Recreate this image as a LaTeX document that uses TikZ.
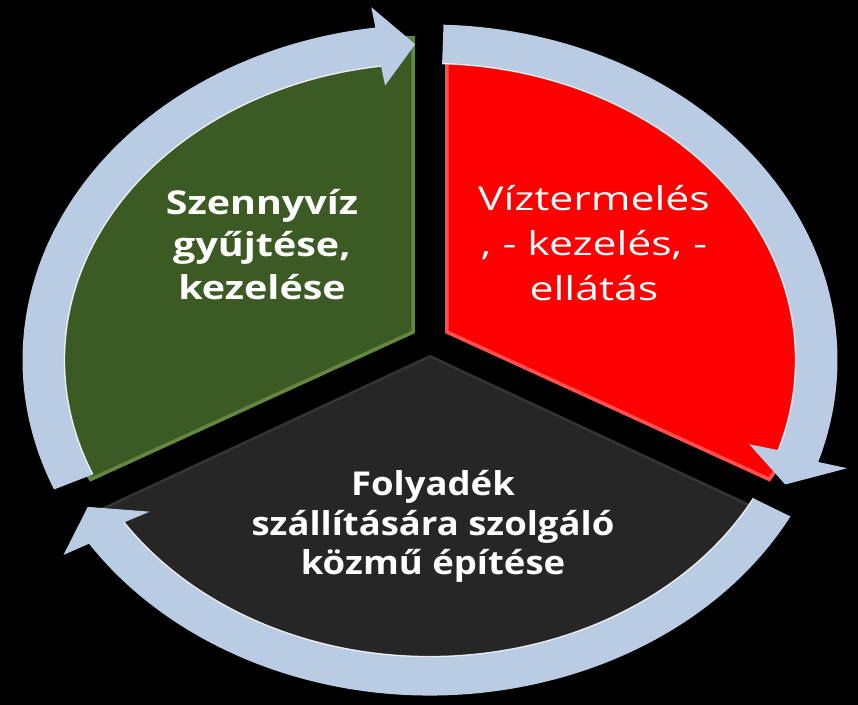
\documentclass[tikz,border=0pt]{standalone}
\usepackage{fontspec}
\newfontfamily\diagfont[FakeStretch=1.3]{Open Sans}
\newfontfamily\diagboldfont[FakeStretch=1.11]{Open Sans Bold}
\newfontfamily\diagwidefont[FakeStretch=1.2]{Open Sans Bold}
\definecolor{segGreen}{RGB}{60,90,35}
\definecolor{segGreenLight}{RGB}{98,135,62}
\definecolor{segRed}{RGB}{255,0,0}
\definecolor{segRedLight}{RGB}{255,80,80}
\definecolor{segGray}{RGB}{38,38,38}
\definecolor{segGrayLight}{RGB}{52,52,52}
\definecolor{ringBlue}{RGB}{185,204,228}
\newcommand\sectorpath[5]{(#1) -- ++(#2:#4 and #5) arc[start angle=#2, end angle=#3, x radius=#4, y radius=#5] -- cycle}
\newcommand\ringarrow[2]{%
  \pgfmathsetmacro\hc{#2+5.5}%
  \fill[ringfill] (#1:407.5bp and 335.5bp)
    arc[start angle=#1, end angle=\hc, x radius=407.5bp, y radius=335.5bp]
    -- (\hc:438bp and 356bp) -- (#2:386.5bp and 316bp) -- (\hc:335bp and 277bp)
    -- (\hc:365.5bp and 296.5bp)
    arc[start angle=\hc, end angle=#1, x radius=365.5bp, y radius=296.5bp] -- cycle;
  \draw[ringlight] (#1:365.5bp and 296.5bp)
    arc[start angle=#1, end angle=\hc, x radius=365.5bp, y radius=296.5bp];
}
\begin{document}
\begin{tikzpicture}[x=1bp,y=1bp,
  ringfill/.style={fill=ringBlue},
  ringlight/.style={draw=white, line width=1.3bp, opacity=.85},
  lbl/.style={text=white, align=center, inner sep=0pt},
  regfont/.style={font=\diagfont\fontsize{33}{45}\selectfont},
  boldfont/.style={font=\diagwidefont\fontsize{33}{43}\selectfont},
  lowfont/.style={font=\diagboldfont\fontsize{33}{40}\selectfont}]
\fill[black] (-430,-345) rectangle (428,360);
\useasboundingbox (-430,-345) rectangle (428,360);
\coordinate (gc) at (-15,27);
\coordinate (rc) at (15,27);
\coordinate (kc) at (0,5);
% green segment
\fill[segGreen] \sectorpath{gc}{90}{210}{375bp}{297bp};
\begin{scope}
  \clip \sectorpath{gc}{90}{210}{375bp}{297bp};
  \draw[segGreenLight, line width=7bp] \sectorpath{gc}{90}{210}{375bp}{297bp};
\end{scope}
% red segment
\fill[segRed] \sectorpath{rc}{90}{-30}{375bp}{297bp};
\begin{scope}
  \clip \sectorpath{rc}{90}{-30}{375bp}{297bp};
  \draw[segRedLight, line width=7bp] \sectorpath{rc}{90}{-30}{375bp}{297bp};
\end{scope}
% gray segment
\fill[segGray] \sectorpath{kc}{210}{330}{378bp}{305bp};
\begin{scope}
  \clip \sectorpath{kc}{210}{330}{378bp}{305bp};
  \draw[segGrayLight, line width=5bp] \sectorpath{kc}{210}{330}{378bp}{305bp};
\end{scope}
% ring arrows
\ringarrow{202.7}{92.2}
\ringarrow{88.1}{-23.2}
\ringarrow{-27.8}{-152.3}
% labels
\node[lbl, boldfont] (tGreen) at (-168,115.5) {Szennyvíz\\gyűjtése,\\kezelése};
\node[lbl, regfont] (tRed) at (164,117) {Víztermelés\\, - kezelés, -\\ellátás};
\node[lbl, lowfont] (tGray) at (3,-166.5) {Folyadék\\szállítására szolgáló\\közmű építése};
\end{tikzpicture}
\end{document}
